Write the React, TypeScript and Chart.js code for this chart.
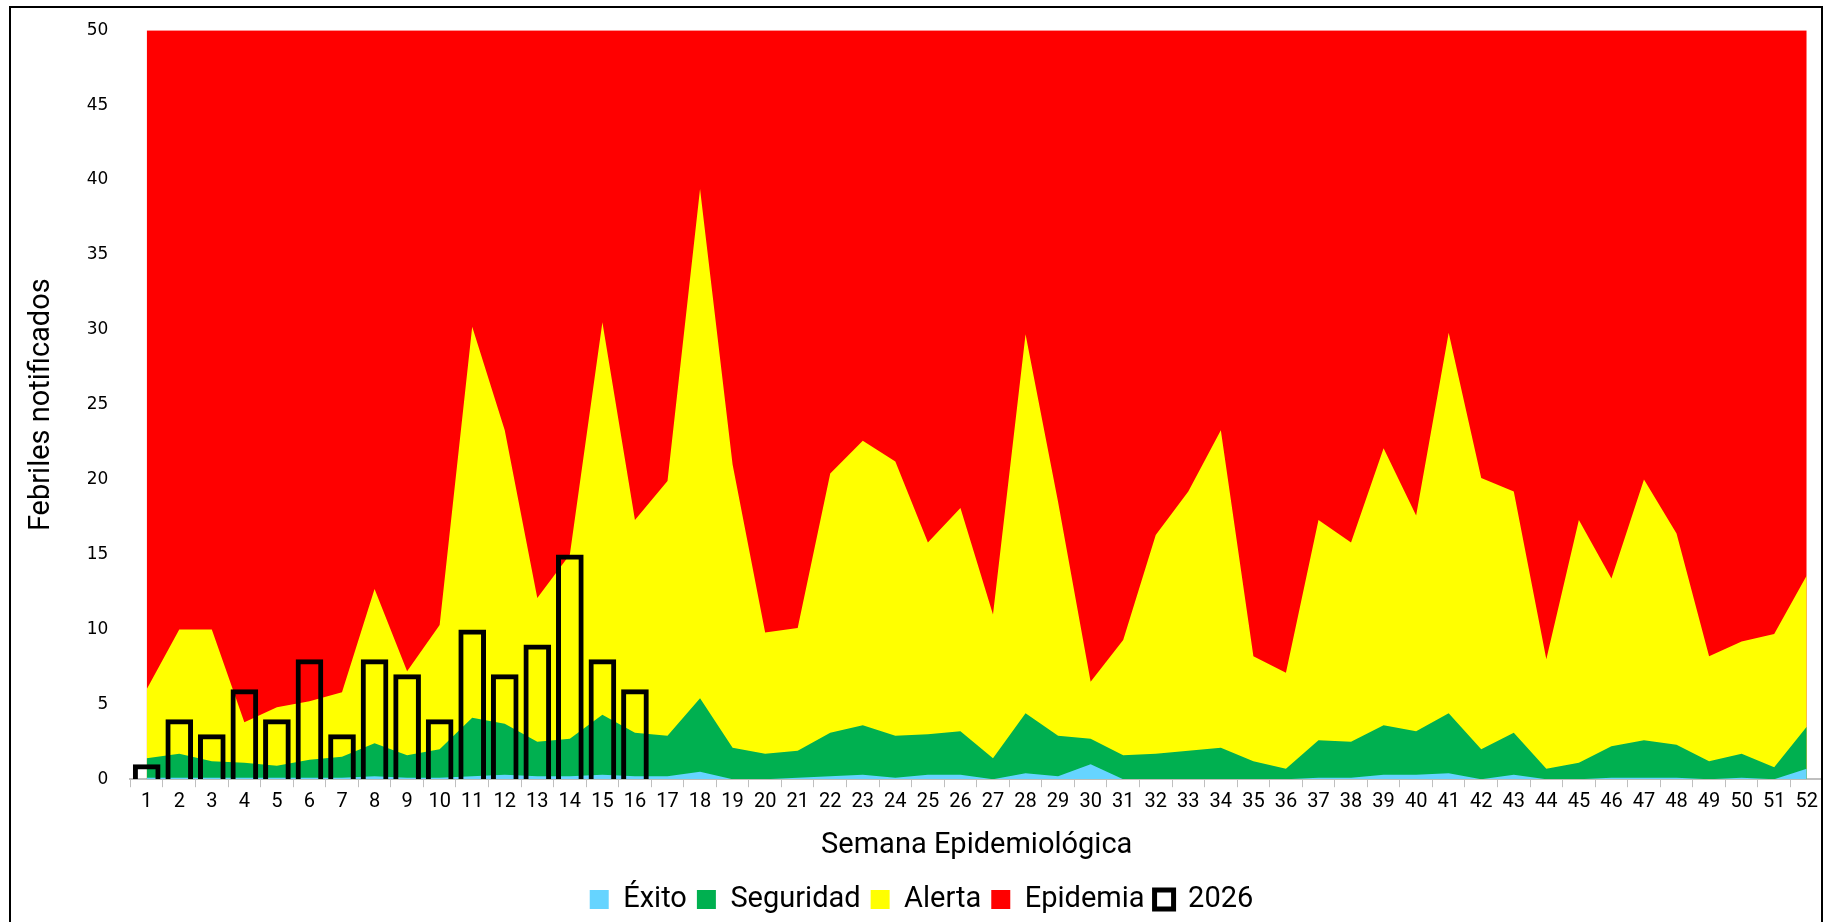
import { useEffect, useRef } from 'react';
import { Chart, registerables } from 'chart.js';

Chart.register(...registerables);

const WEEKS = Array.from({ length: 52 }, (_, i) => String(i + 1));

// Tops of each stacked band (cumulative)
const EXITO = [
  0.1, 0.1, 0.1, 0.1, 0.1, 0.1, 0.1, 0.2, 0.1, 0.1, 0.2, 0.3, 0.2, 0.2, 0.3, 0.2,
  0.2, 0.5, 0.0, 0.0, 0.1, 0.2, 0.3, 0.1, 0.3, 0.3, 0.0, 0.4, 0.2, 1.0, 0.0, 0.0,
  0.0, 0.0, 0.0, 0.0, 0.1, 0.1, 0.3, 0.3, 0.4, 0.0, 0.3, 0.0, 0.0, 0.1, 0.1, 0.1,
  0.0, 0.1, 0.0, 0.7,
];
const SEGURIDAD = [
  1.4, 1.7, 1.2, 1.1, 0.9, 1.3, 1.5, 2.4, 1.6, 2.0, 4.1, 3.7, 2.5, 2.7, 4.3, 3.1,
  2.9, 5.4, 2.1, 1.7, 1.9, 3.1, 3.6, 2.9, 3.0, 3.2, 1.4, 4.4, 2.9, 2.7, 1.6, 1.7,
  1.9, 2.1, 1.2, 0.7, 2.6, 2.5, 3.6, 3.2, 4.4, 2.0, 3.1, 0.7, 1.1, 2.2, 2.6, 2.3,
  1.2, 1.7, 0.8, 3.5,
];
const ALERTA = [
  6.0, 10.0, 10.0, 3.8, 4.8, 5.2, 5.8, 12.7, 7.2, 10.3, 30.2, 23.3, 12.1, 15.0, 30.5, 17.3,
  19.9, 39.4, 21.0, 9.8, 10.1, 20.4, 22.6, 21.2, 15.8, 18.1, 11.0, 29.7, 18.5, 6.5, 9.3, 16.3,
  19.2, 23.3, 8.2, 7.1, 17.3, 15.8, 22.1, 17.6, 29.8, 20.1, 19.2, 8.0, 17.3, 13.4, 20.0, 16.4,
  8.2, 9.2, 9.7, 13.6,
];
const EPIDEMIA = WEEKS.map(() => 50);
const CASOS_2026 = [1, 4, 3, 6, 4, 8, 3, 8, 7, 4, 10, 7, 9, 15, 8, 6];

const NARROW = 'Liberation Sans Narrow, Roboto, sans-serif';

export default function App() {
  const canvasRef = useRef<HTMLCanvasElement>(null);

  useEffect(() => {
    if (!canvasRef.current) return;
    const area = (label: string, data: number[], color: string, order: number) => ({
      type: 'line' as const,
      label,
      data,
      backgroundColor: color,
      borderColor: color,
      borderWidth: 0,
      pointRadius: 0,
      fill: 'origin',
      tension: 0,
      order,
    });

    const chart = new Chart(canvasRef.current, {
      type: 'bar',
      data: {
        labels: WEEKS,
        datasets: [
          area('Éxito', EXITO, '#66d4ff', 1),
          area('Seguridad', SEGURIDAD, '#00b050', 2),
          area('Alerta', ALERTA, '#ffff00', 3),
          area('Epidemia', EPIDEMIA, '#ff0000', 4),
          {
            type: 'bar',
            label: '2026',
            data: CASOS_2026,
            backgroundColor: 'rgba(0,0,0,0)',
            borderColor: '#000000',
            borderWidth: 5,
            categoryPercentage: 0.85,
            barPercentage: 1,
            order: 0,
          },
        ] as any,
      },
      options: {
        animation: false,
        responsive: true,
        maintainAspectRatio: false,
        layout: { padding: { left: 9, right: 0, top: 14, bottom: 0 } },
        plugins: {
          tooltip: { enabled: false },
          legend: {
            position: 'bottom',
            labels: {
              color: '#000',
              font: { family: NARROW, size: 29 },
              boxWidth: 19,
              boxHeight: 19,
              padding: 10,
              generateLabels: (c) =>
                c.data.datasets.map((ds: any, i) => ({
                  text: ds.label,
                  fillStyle: ds.label === '2026' ? '#ffffff' : ds.backgroundColor,
                  strokeStyle: ds.label === '2026' ? '#000' : ds.backgroundColor,
                  lineWidth: ds.label === '2026' ? 5 : 0,
                  hidden: false,
                  datasetIndex: i,
                  fontColor: '#000',
                })),
            },
          },
        },
        scales: {
          x: {
            offset: true,
            grid: { display: true, drawOnChartArea: false, offset: true, color: '#bfbfbf', tickLength: 8 },
            border: { color: '#bfbfbf', width: 2 },
            ticks: { color: '#000', font: { family: NARROW, size: 20 }, maxRotation: 0, autoSkip: false },
            title: {
              display: true,
              text: 'Semana Epidemiológica',
              color: '#000',
              font: { family: NARROW, size: 29 },
              padding: { top: 11, bottom: 12 },
            },
          },
          y: {
            min: 0,
            max: 50,
            grid: { display: false },
            border: { display: false },
            ticks: { stepSize: 5, color: '#000', font: { family: 'DejaVu Sans', size: 17 }, padding: 14 },
            title: {
              display: true,
              text: 'Febriles notificados',
              color: '#000',
              font: { family: NARROW, size: 29 },
              padding: { bottom: 14 },
            },
          },
        },
      },
    });
    return () => chart.destroy();
  }, []);

  return (
    <div
      style={{
        position: 'fixed',
        left: 9,
        top: 6,
        width: 1814,
        height: 940,
        border: '2px solid #000',
        boxSizing: 'border-box',
        background: '#fff',
        overflow: 'hidden',
      }}
    >
      <div style={{ position: 'absolute', left: 0, top: -2, width: 1812, height: 918 }}>
        <canvas ref={canvasRef} />
      </div>
    </div>
  );
}
